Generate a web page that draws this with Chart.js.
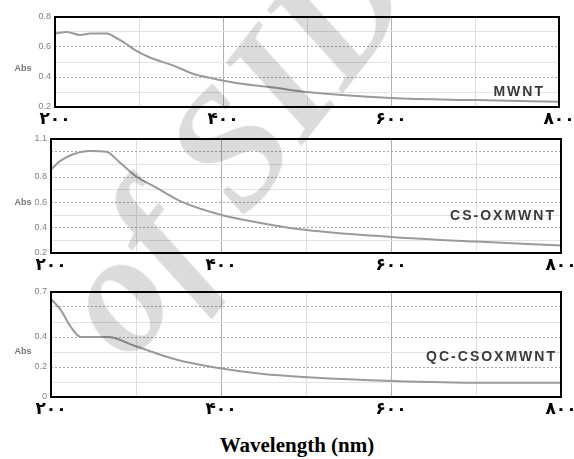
<!DOCTYPE html>
<html lang="en">
<head>
<meta charset="UTF-8" />
<script src="https://cdn.jsdelivr.net/npm/chart.js"></script>
<title>Abs spectra</title>
<style>
  body { margin: 0; background: #fff; }
  #wrap { position: relative; width: 574px; height: 459px; overflow: hidden; background: #fff; }
  canvas { position: absolute; left: 0; }
  #xtitle { position: absolute; left: 10px; width: 574px; top: 433px; text-align: center;
            font: bold 21px "Liberation Serif", serif; color: #000; }
  #mark { position: absolute; left: -10px; top: 60px; width: 480px; text-align: center;
          font: italic bold 170px "Liberation Serif", serif; color: rgba(0, 0, 0, 0.14);
          transform: rotate(-52deg); transform-origin: 50% 50%; pointer-events: none;
          white-space: nowrap; line-height: 1; }
</style>
</head>
<body>
<div id="wrap">
  <canvas id="c1" width="574" height="130" style="top:0px"></canvas>
  <canvas id="c2" width="574" height="148" style="top:130px"></canvas>
  <canvas id="c3" width="574" height="145" style="top:278px"></canvas>
  <div id="xtitle">Wavelength (nm)</div>
  <div id="mark">of SID</div>
</div>
<script>
// x tick labels (persian digits as in the picture)
var xTickValues = [200, 400, 600, 800];
var xTickLabels = ["۲۰۰", "۴۰۰", "۶۰۰", "۸۰۰"];

// MWNT
var mwntX = [200, 214, 230, 242, 262, 273, 285, 297, 313, 341, 365, 388, 420, 460, 500, 600, 700, 800];
var mwntY = [0.69, 0.70, 0.68, 0.69, 0.69, 0.66, 0.62, 0.574, 0.53, 0.476, 0.42, 0.39, 0.356, 0.33, 0.30, 0.26, 0.246, 0.235];
var mwntTicks = [0.2, 0.4, 0.6, 0.8];

// CS-OXMWNT
var csX = [200, 211, 226, 246, 265, 281, 299, 324, 352, 403, 442, 490, 600, 700, 800];
var csY = [0.86, 0.927, 0.98, 1.006, 1.0, 0.914, 0.81, 0.716, 0.61, 0.496, 0.443, 0.39, 0.327, 0.29, 0.26];
var csTicks = [0.2, 0.4, 0.6, 0.8, 1.1];

// QC-CSOXMWNT
var qcX = [200, 211, 223, 235, 267, 299, 347, 395, 447, 507, 602, 706, 800];
var qcY = [0.654, 0.584, 0.47, 0.40, 0.40, 0.34, 0.25, 0.195, 0.155, 0.13, 0.107, 0.095, 0.095];
var qcTicks = [0, 0.2, 0.4, 0.7];

var framePlugin = {
  id: "frame",
  afterDraw: function (chart, args, opts) {
    var ctx = chart.ctx, a = chart.chartArea;
    ctx.save();
    ctx.strokeStyle = "#000";
    ctx.lineWidth = 2;
    ctx.strokeRect(a.left, a.top, a.right - a.left, a.bottom - a.top);

    ctx.font = 'bold 14px "Liberation Sans", Arial';
    ctx.letterSpacing = "2px";
    ctx.fillStyle = "#3a3a3a";
    ctx.textAlign = "right";
    ctx.textBaseline = "alphabetic";
    ctx.fillText(opts.name, a.right - opts.dx, a.bottom - opts.dy);

    ctx.letterSpacing = "0px";
    ctx.font = 'bold 9px "Liberation Sans", Arial';
    ctx.fillStyle = "#777";
    ctx.textAlign = "center";
    ctx.textBaseline = "middle";
    ctx.fillText("Abs", 23, (a.top + a.bottom) / 2 + 7);
    ctx.restore();
  }
};

function isMajor(v) {
  return Math.round(v * 10) % 2 === 0;
}

function makePanel(id, xs, ys, yMin, yMax, yTicks, name, g) {
  var pts = xs.map(function (x, i) { return { x: x, y: ys[i] }; });
  return new Chart(document.getElementById(id), {
    type: "line",
    data: {
      datasets: [{
        data: pts,
        borderColor: "#9a9a9a",
        borderWidth: 2,
        pointRadius: 0,
        cubicInterpolationMode: "monotone",
        fill: false
      }]
    },
    options: {
      responsive: false,
      animation: false,
      events: [],
      layout: { padding: { top: g.top, right: g.right, left: 0, bottom: 0 } },
      plugins: {
        legend: { display: false },
        tooltip: { enabled: false },
        frame: { name: name, dx: g.dx, dy: g.dy }
      },
      scales: {
        x: {
          type: "linear",
          min: 200,
          max: 800,
          afterFit: function (s) { s.height = g.xh; s.paddingLeft = 0; s.paddingRight = 0; },
          ticks: {
            stepSize: 100,
            autoSkip: false,
            maxRotation: 0,
            padding: 2,
            color: "#000",
            font: { family: "DejaVu Sans", size: 17, weight: "bold" },
            callback: function (v) {
              var k = xTickValues.indexOf(v);
              return k >= 0 ? xTickLabels[k] : "";
            }
          },
          grid: {
            drawTicks: false,
            color: function (c) { return c.tick && c.tick.value % 200 === 0 ? "#b0b0b0" : "#dedede"; },
            lineWidth: 1
          },
          border: { display: false }
        },
        y: {
          min: yMin,
          max: yMax,
          afterFit: function (s) { s.width = g.left; s.paddingTop = 0; s.paddingBottom = 0; },
          ticks: {
            stepSize: 0.1,
            autoSkip: false,
            padding: 4,
            color: "#808080",
            font: { family: "Liberation Sans", size: 9 },
            callback: function (v) {
              var r = Math.round(v * 10) / 10;
              return yTicks.indexOf(r) >= 0 ? String(r) : "";
            }
          },
          grid: {
            drawTicks: false,
            color: function (c) { return c.tick && isMajor(c.tick.value) ? "#a8a8a8" : "#e2e2e2"; },
            lineWidth: 1
          },
          border: {
            display: false,
            dash: function (c) { return c.tick && isMajor(c.tick.value) ? [2, 2] : []; }
          }
        }
      }
    },
    plugins: [framePlugin]
  });
}

makePanel("c1", mwntX, mwntY, 0.2, 0.8, mwntTicks, "MWNT",
  { top: 17, right: 15, left: 55, xh: 23, dx: 14, dy: 11 });
makePanel("c2", csX, csY, 0.2, 1.1, csTicks, "CS-OXMWNT",
  { top: 9, right: 13, left: 51, xh: 25, dx: 5, dy: 33 });
makePanel("c3", qcX, qcY, 0, 0.7, qcTicks, "QC-CSOXMWNT",
  { top: 14, right: 13, left: 51, xh: 26, dx: 4, dy: 36 });
</script>
</body>
</html>
